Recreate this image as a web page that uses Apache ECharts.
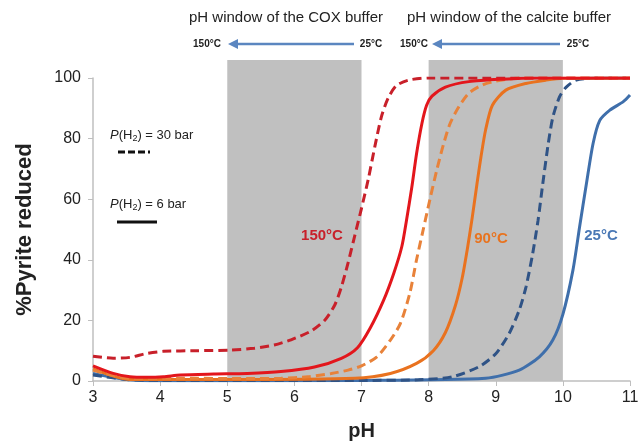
<!DOCTYPE html>
<html>
<head>
<meta charset="utf-8">
<script src="https://cdn.jsdelivr.net/npm/echarts@6/dist/echarts.min.js"></script>
<style>
  html, body { margin: 0; padding: 0; background: #fff; }
  #chart { width: 644px; height: 442px; }
</style>
</head>
<body>
<div id="chart"></div>
<script>
// pH windows of the buffers (shaded)
const bufferWindows = [[5, 7], [8, 10]]

// [pH, % pyrite reduced]
const red30 = [[3, 8.2], [3.3, 7.5], [3.55, 7.8], [3.8, 9.1], [4.05, 9.8], [4.55, 10], [5.05, 10.2], [5.4, 10.8], [5.7, 11.9], [5.95, 13.6], [6.25, 16.5], [6.45, 20], [6.6, 25], [6.7, 31], [6.8, 39], [6.9, 48], [7.0, 57], [7.1, 66.5], [7.2, 77.5], [7.3, 87.5], [7.4, 93.5], [7.52, 97.5], [7.7, 99.3], [8.0, 100], [11, 100]]
const red6 = [[3, 5], [3.3, 2.5], [3.55, 1.4], [3.8, 1.2], [4.05, 1.4], [4.3, 2], [4.8, 2.3], [5.3, 2.5], [5.8, 3.1], [6.3, 4.6], [6.7, 7.5], [6.94, 11], [7.13, 17.5], [7.33, 26.7], [7.48, 35.5], [7.6, 44.3], [7.67, 53], [7.75, 64], [7.82, 75], [7.9, 85], [7.97, 91], [8.05, 94], [8.25, 97], [8.6, 98.8], [9.1, 99.6], [9.6, 100], [11, 100]]
const orange30 = [[3, 3.6], [3.55, 0.9], [4.3, 0.9], [5.3, 0.8], [5.8, 0.9], [6.2, 1.4], [6.55, 2.5], [6.8, 3.6], [7.0, 5], [7.23, 8], [7.43, 13.5], [7.58, 19], [7.72, 29], [7.82, 40], [7.92, 50], [8.02, 60], [8.12, 69.5], [8.22, 78], [8.32, 85], [8.45, 90.5], [8.6, 95], [8.8, 97.7], [9.0, 99], [9.4, 100], [11, 100]]
const orange6 = [[3, 4], [3.55, 0.5], [5, 0.5], [6.9, 0.9], [7.43, 2.5], [7.82, 5.8], [8.07, 10], [8.25, 16], [8.4, 25], [8.5, 34], [8.58, 44], [8.65, 54], [8.72, 65], [8.78, 74], [8.85, 83], [8.95, 91], [9.15, 96], [9.45, 98.2], [9.75, 99.3], [10, 99.9], [11, 100]]
const blue30 = [[3, 2], [3.5, 0.5], [4, 0.2], [7, 0.2], [7.85, 0.4], [8.35, 1.4], [8.75, 4.7], [9.0, 9], [9.2, 15.7], [9.35, 23.4], [9.45, 31], [9.55, 42], [9.63, 53], [9.7, 65], [9.78, 78], [9.85, 87], [9.95, 93.8], [10.05, 97], [10.2, 99.3], [10.5, 100], [11, 100]]
const blue6 = [[3, 2.5], [3.5, 0.5], [4, 0.1], [7, 0.2], [8.85, 0.9], [9.35, 3.6], [9.65, 8], [9.85, 13.5], [10, 22], [10.15, 36.6], [10.25, 51], [10.35, 65], [10.45, 78.4], [10.55, 86], [10.7, 89.4], [10.9, 92.2], [11, 94.4]]

const xTicks = [3, 11, 1]
const yTicks = [0, 100, 20]

const font = 'Liberation Sans'
const dash = [9, 5]

function curve (name, data, color, dashed) {
  return {
    name: name,
    type: 'line',
    xAxisIndex: 0,
    yAxisIndex: 0,
    data: data,
    smooth: 0.25,
    showSymbol: false,
    lineStyle: { color: color, width: 3, type: dashed ? dash : 'solid' },
    z: 3
  }
}

function arrow (x0, x1, y) {
  return [
    { type: 'line', shape: { x1: x1, y1: y, x2: x0 + 8, y2: y }, style: { stroke: '#5b86c0', lineWidth: 2.5 } },
    { type: 'polygon', shape: { points: [[x0, y], [x0 + 10, y - 5], [x0 + 10, y + 5]] }, style: { fill: '#5b86c0' } }
  ]
}

function smallText (x, y, text) {
  return { type: 'text', x: x, y: y, style: { text: text, font: 'bold 10px ' + font, fill: '#222', align: 'center', verticalAlign: 'middle' } }
}

const legendRich = {
  i: { fontStyle: 'italic', fontSize: 13, fontFamily: font, fill: '#222' },
  s: { fontSize: 9, fontFamily: font, fill: '#222', padding: [8, 0, 0, 0] }
}

const chart = echarts.init(document.getElementById('chart'))
chart.setOption({
  animation: false,
  backgroundColor: '#fff',
  grid: [
    { left: 93, right: 14, top: 78, bottom: 61, outerBoundsMode: 'none' },
    { left: 93, right: 14, top: 60, bottom: 61, outerBoundsMode: 'none' }
  ],
  xAxis: [
    {
      type: 'value',
      gridIndex: 0,
      min: xTicks[0],
      max: xTicks[1],
      interval: xTicks[2],
      name: 'pH',
      nameLocation: 'middle',
      nameGap: 40,
      nameTextStyle: { fontFamily: font, fontWeight: 'bold', fontSize: 20, color: '#222' },
      axisLine: { lineStyle: { color: '#bfbfbf', width: 1.5 } },
      axisTick: { show: true, length: 5, lineStyle: { color: '#bfbfbf' } },
      axisLabel: { fontFamily: font, fontSize: 16, color: '#222', margin: 9 },
      splitLine: { show: false }
    },
    { type: 'value', gridIndex: 1, min: xTicks[0], max: xTicks[1], show: false }
  ],
  yAxis: [
    {
      type: 'value',
      gridIndex: 0,
      min: yTicks[0],
      max: yTicks[1],
      interval: yTicks[2],
      name: '%Pyrite reduced',
      nameLocation: 'middle',
      nameGap: 57,
      nameTextStyle: { fontFamily: font, fontWeight: 'bold', fontSize: 22, color: '#222' },
      axisLine: { show: true, lineStyle: { color: '#bfbfbf', width: 1.5 } },
      axisTick: { show: true, length: 5, lineStyle: { color: '#bfbfbf' } },
      axisLabel: { fontFamily: font, fontSize: 16, color: '#222', margin: 12 },
      splitLine: { show: false }
    },
    { type: 'value', gridIndex: 1, min: 0, max: 100, show: false }
  ],
  series: [
    {
      type: 'custom',
      xAxisIndex: 1,
      yAxisIndex: 1,
      data: bufferWindows,
      z: 1,
      renderItem: function (params, api) {
        const p0 = api.coord([api.value(0), 100])
        const p1 = api.coord([api.value(1), 0])
        return { type: 'rect', shape: { x: p0[0], y: p0[1], width: p1[0] - p0[0], height: p1[1] - p0[1] }, style: { fill: '#c0c0c0' } }
      }
    },
    curve('25°C 6 bar', blue6, '#3f6fab', false),
    curve('25°C 30 bar', blue30, '#2f5386', true),
    curve('90°C 6 bar', orange6, '#e9721f', false),
    curve('90°C 30 bar', orange30, '#e8823a', true),
    curve('150°C 30 bar', red30, '#c8202a', true),
    curve('150°C 6 bar', red6, '#e3161c', false)
  ],
  graphic: {
    elements: [
      { type: 'text', x: 286, y: 18, style: { text: 'pH window of the COX buffer', font: '15px ' + font, fill: '#222', align: 'center', verticalAlign: 'middle' } },
      { type: 'text', x: 509, y: 18, style: { text: 'pH window of the calcite buffer', font: '15px ' + font, fill: '#222', align: 'center', verticalAlign: 'middle' } },
      ...arrow(228, 354, 44),
      ...arrow(432, 560, 44),
      smallText(207, 44, '150°C'),
      smallText(371, 44, '25°C'),
      smallText(414, 44, '150°C'),
      smallText(578, 44, '25°C'),
      { type: 'text', x: 110, y: 135, style: { rich: legendRich, text: '{i|P}(H{s|2}) = 30 bar', font: '13px ' + font, fill: '#222', verticalAlign: 'middle' } },
      { type: 'line', shape: { x1: 118, y1: 152, x2: 150, y2: 152 }, style: { stroke: '#111', lineWidth: 3, lineDash: [7, 3] } },
      { type: 'text', x: 110, y: 204, style: { rich: legendRich, text: '{i|P}(H{s|2}) = 6 bar', font: '13px ' + font, fill: '#222', verticalAlign: 'middle' } },
      { type: 'line', shape: { x1: 117, y1: 222, x2: 157, y2: 222 }, style: { stroke: '#111', lineWidth: 3 } },
      { type: 'text', x: 322, y: 236, z: 10, style: { text: '150°C', font: 'bold 15px ' + font, fill: '#c8202a', align: 'center', verticalAlign: 'middle' } },
      { type: 'text', x: 491, y: 239, z: 10, style: { text: '90°C', font: 'bold 15px ' + font, fill: '#e8731f', align: 'center', verticalAlign: 'middle' } },
      { type: 'text', x: 601, y: 236, z: 10, style: { text: '25°C', font: 'bold 15px ' + font, fill: '#4a78b5', align: 'center', verticalAlign: 'middle' } }
    ]
  }
})
</script>
</body>
</html>
